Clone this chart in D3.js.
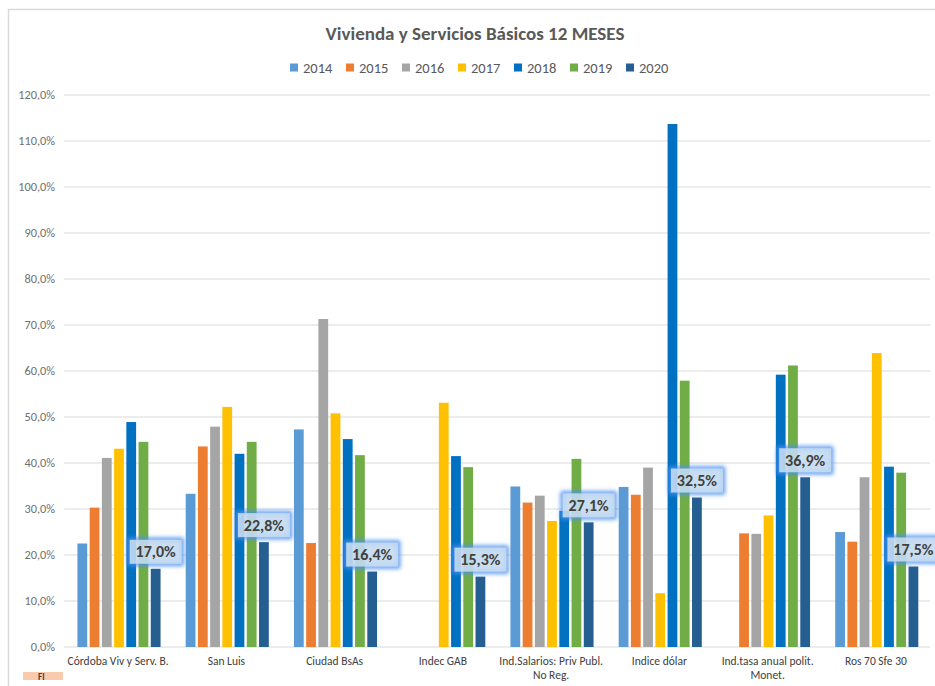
<!DOCTYPE html>
<html>
<head>
<meta charset="utf-8">
<script src="https://cdn.jsdelivr.net/npm/d3@7"></script>
<style>
  body { margin: 0; background: #fff; }
  svg text { font-family: Carlito, Lato, "Open Sans", sans-serif; }
</style>
</head>
<body>
<div id="chart"></div>
<script>
// datos (porcentajes)
const categories = ["Córdoba Viv y Serv. B.", "San Luis", "Ciudad BsAs", "Indec GAB",
  "Ind.Salarios: Priv Publ. No Reg.", "Indice dólar", "Ind.tasa anual polit. Monet.", "Ros 70 Sfe 30"]
const years = ["2014", "2015", "2016", "2017", "2018", "2019", "2020"]
const colors = ["#5b9bd5", "#ed7d31", "#a5a5a5", "#ffc000", "#0070c0", "#70ad47", "#255e91"]

const v2014 = [22.5, 33.3, 47.3, null, 34.9, 34.8, null, 25.0]
const v2015 = [30.3, 43.6, 22.6, null, 31.4, 33.1, 24.7, 22.9]
const v2016 = [41.1, 47.9, 71.3, null, 32.9, 39.0, 24.6, 36.9]
const v2017 = [43.1, 52.2, 50.8, 53.1, 27.4, 11.7, 28.6, 63.9]
const v2018 = [48.9, 42.0, 45.2, 41.5, 29.6, 113.7, 59.2, 39.2]
const v2019 = [44.6, 44.6, 41.7, 39.1, 40.9, 57.9, 61.2, 37.9]
const v2020 = [17.0, 22.8, 16.4, 15.3, 27.1, 32.5, 36.9, 17.5]
const series = [v2014, v2015, v2016, v2017, v2018, v2019, v2020]

const yTicks = [0, 10, 20, 30, 40, 50, 60, 70, 80, 90, 100, 110, 120]

// split long category names into two lines like the original
const catLines = {
  "Ind.Salarios: Priv Publ. No Reg.": ["Ind.Salarios: Priv Publ.", "No Reg."],
  "Ind.tasa anual polit. Monet.": ["Ind.tasa anual polit.", "Monet."]
}

const W = 935, H = 686
const fmt = v => d3.format(".1f")(v).replace(".", ",") + "%"

let svg = d3.select("#chart").append("svg")
  .attr("width", W)
  .attr("height", H)

let defs = svg.append("defs")
defs.append("filter").attr("id", "glow")
  .attr("x", "-30%").attr("y", "-50%").attr("width", "160%").attr("height", "200%")
  .append("feGaussianBlur").attr("stdDeviation", 2.2)

svg.append("rect").attr("width", W).attr("height", H).attr("fill", "#fff")

// chart frame
svg.append("path")
  .attr("d", "M8.5," + H + " V9.5 H" + W)
  .attr("fill", "none")
  .attr("stroke", "#d9d9d9")
  .attr("stroke-width", 1.5)

svg.append("text")
  .attr("x", 475)
  .attr("y", 40)
  .attr("text-anchor", "middle")
  .attr("font-size", 19)
  .attr("font-weight", "bold")
  .attr("fill", "#595959")
  .text("Vivienda y Servicios Básicos 12 MESES")

// legend
let legend = svg.selectAll("g.leg")
  .data(years)
  .enter()
  .append("g")
  .attr("class", "leg")
  .attr("transform", (d, i) => "translate(" + (290 + i * 56) + ",62)")
legend.append("rect")
  .attr("width", 8).attr("height", 8).attr("y", 1.5)
  .attr("fill", (d, i) => colors[i])
legend.append("text")
  .attr("x", 13).attr("y", 10.5)
  .attr("font-size", 14.5)
  .attr("fill", "#595959")
  .text(d => d)

let x = d3.scaleBand().domain(categories).range([64, 930])
let xi = d3.scaleBand().domain(years).range([11, 99]).padding(0.2)
let y = d3.scaleLinear().domain([0, 120]).range([647, 95])

// gridlines
svg.selectAll("line.grid")
  .data(yTicks)
  .enter()
  .append("line")
  .attr("class", "grid")
  .attr("x1", 64).attr("x2", 930)
  .attr("y1", d => y(d)).attr("y2", d => y(d))
  .attr("stroke", "#d9d9d9")
  .attr("stroke-width", 1)

svg.selectAll("text.ylab")
  .data(yTicks)
  .enter()
  .append("text")
  .attr("class", "ylab")
  .attr("x", 55)
  .attr("y", d => y(d) + 4)
  .attr("text-anchor", "end")
  .attr("font-size", 12.3)
  .attr("fill", "#6f6f6f")
  .text(d => fmt(d))

// bars
series.forEach((vals, si) => {
  svg.selectAll("rect.s" + si)
    .data(vals.map((v, ci) => ({cat: categories[ci], v: v})).filter(d => d.v !== null))
    .enter()
    .append("rect")
    .attr("class", "s" + si)
    .attr("x", d => x(d.cat) + xi(years[si]))
    .attr("width", xi.bandwidth())
    .attr("y", d => y(d.v))
    .attr("height", d => y(0) - y(d.v))
    .attr("fill", colors[si])
})

// category labels
let xl = svg.selectAll("text.xlab")
  .data(categories)
  .enter()
  .append("text")
  .attr("class", "xlab")
  .attr("text-anchor", "middle")
  .attr("font-size", 11.5)
  .attr("fill", "#404040")
xl.selectAll("tspan")
  .data(d => (catLines[d] || [d]).map(t => ({t: t, c: d})))
  .enter()
  .append("tspan")
  .attr("x", d => x(d.c) + x.bandwidth() / 2)
  .attr("y", (d, i) => 665 + i * 14)
  .text(d => d.t)

// 2020 data labels with the blue glow boxes
let lab = svg.selectAll("g.dlab")
  .data(v2020.map((v, ci) => ({cat: categories[ci], v: v})))
  .enter()
  .append("g")
  .attr("class", "dlab")
  .attr("transform", d => "translate(" + (x(d.cat) + xi("2020") + xi.bandwidth() / 2) + "," + (y(d.v) - 17) + ")")
lab.append("rect")
  .attr("x", -26).attr("y", -12).attr("width", 52).attr("height", 24)
  .attr("fill", "none")
  .attr("stroke", "#4a8ff0")
  .attr("stroke-width", 4)
  .attr("filter", "url(#glow)")
lab.append("rect")
  .attr("x", -26).attr("y", -12).attr("width", 52).attr("height", 24)
  .attr("fill", "#c4daf1")
  .attr("fill-opacity", 0.9)
lab.append("text")
  .attr("text-anchor", "middle")
  .attr("y", 5.5)
  .attr("font-size", 16)
  .attr("font-weight", "bold")
  .attr("fill", "#404040")
  .text(d => fmt(d.v))

// little tag at the bottom left
svg.append("rect")
  .attr("x", 23).attr("y", 672).attr("width", 40).attr("height", 8)
  .attr("fill", "#f8cbad")
svg.append("text")
  .attr("x", 38).attr("y", 680)
  .attr("font-size", 9)
  .attr("font-weight", "bold")
  .attr("fill", "#404040")
  .text("FI")
</script>
</body>
</html>
